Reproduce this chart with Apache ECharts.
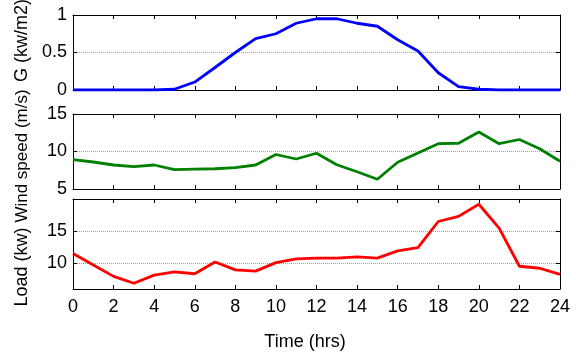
<!DOCTYPE html>
<html>
<head>
<meta charset="utf-8">
<script src="https://cdn.jsdelivr.net/npm/echarts@6/dist/echarts.min.js"></script>
<style>html,body{margin:0;padding:0;background:#fff}#c{width:576px;height:356px}</style>
</head>
<body>
<div id="c"></div>
<script>
var hours = [0,1,2,3,4,5,6,7,8,9,10,11,12,13,14,15,16,17,18,19,20,21,22,23,24];
var irradiance = [0,0,0,0,0,0.01,0.106,0.3,0.5,0.686,0.75,0.89,0.95,0.95,0.89,0.85,0.67,0.52,0.23,0.045,0.01,0,0,0,0];
var windSpeed = [8.92,8.6,8.2,7.97,8.2,7.57,7.66,7.7,7.84,8.2,9.6,9.0,9.77,8.24,7.3,6.3,8.56,9.8,11.04,11.1,12.6,11.04,11.6,10.36,8.7];
var load = [11.53,9.74,7.96,6.89,8.16,8.67,8.37,10.2,8.98,8.78,10.1,10.7,10.8,10.8,11.0,10.8,11.94,12.45,16.5,17.3,19.18,15.46,9.54,9.23,8.27];
var xTicks = [0,2,4,6,8,10,12,14,16,18,20,22,24];
var yTicksG = [0,0.5,1];
var yTicksWind = [5,10,15];
var yTicksLoad = [10,15];
var yLabels = ['G (kw/m2)', 'Wind speed (m/s)', 'Load (kw)'];
var xLabel = 'Time (hrs)';

var FONT = 'Liberation Sans, Arial, sans-serif';
var grids = [
  {left:73, right:16, top:15, height:75},
  {left:73, right:16, top:114, height:75},
  {left:73, right:16, top:199, height:90}
];
var yRanges = [[0,1,yTicksG],[5,15,yTicksWind],[6,20,yTicksLoad]];
var xAxes = [], yAxes = [];
function pairs(arr){ return hours.map(function(h,i){return [h, arr[i]];}); }
for (var g=0; g<3; g++){
  ['bottom','top'].forEach(function(pos){
    xAxes.push({
      type:'value', gridIndex:g, position:pos, min:0, max:24, interval:2,
      axisLine:{show:true, onZero:false, lineStyle:{color:'#000', width:1}},
      axisTick:{show:true, inside:true, length:4, lineStyle:{color:'#000'}},
      axisLabel:{show:(g===2 && pos==='bottom'), color:'#000', fontSize:18, fontFamily:FONT, margin:9},
      splitLine:{show:false}
    });
  });
  ['left','right'].forEach(function(pos){
    var r = yRanges[g];
    yAxes.push({
      type:'value', gridIndex:g, position:pos, min:r[0], max:r[1],
      axisLine:{show:true, onZero:false, lineStyle:{color:'#000', width:1}},
      axisTick:{show:true, inside:true, length:4, lineStyle:{color:'#000'}, customValues:r[2]},
      axisLabel:{show:pos==='left', color:'#000', fontSize:18, fontFamily:FONT, margin:6, customValues:r[2]},
      splitLine:{show:pos==='left', lineStyle:{color:'#a0a0a0', type:'dotted', width:1}}
    });
  });
}
var series = [
  {type:'line', xAxisIndex:0, yAxisIndex:0, data:pairs(irradiance), showSymbol:false, lineStyle:{color:'#0000ff', width:2.8}, itemStyle:{color:'#0000ff'}},
  {type:'line', xAxisIndex:2, yAxisIndex:2, data:pairs(windSpeed), showSymbol:false, lineStyle:{color:'#008000', width:2.8}, itemStyle:{color:'#008000'}},
  {type:'line', xAxisIndex:4, yAxisIndex:4, data:pairs(load), showSymbol:false, lineStyle:{color:'#ff0000', width:2.8}, itemStyle:{color:'#ff0000'}}
];
var labelPos = [[22,40.5,18],[22,156,17],[22,267,18]];
var graphics = yLabels.map(function(t,i){
  return {type:'text', x:labelPos[i][0], y:labelPos[i][1], rotation:Math.PI/2,
    style:{text:t, fontSize:labelPos[i][2], fontFamily:FONT, fill:'#000', align:'center', verticalAlign:'middle'}};
});
graphics.push({type:'text', x:305, y:342, style:{text:xLabel, fontSize:18, fontFamily:FONT, fill:'#000', align:'center', verticalAlign:'middle'}});
var chart = echarts.init(document.getElementById('c'), null, {renderer:'canvas'});
chart.setOption({
  animation:false,
  backgroundColor:'#fff',
  grid:grids,
  xAxis:xAxes,
  yAxis:yAxes,
  series:series,
  graphic:graphics
});
</script>
</body>
</html>
